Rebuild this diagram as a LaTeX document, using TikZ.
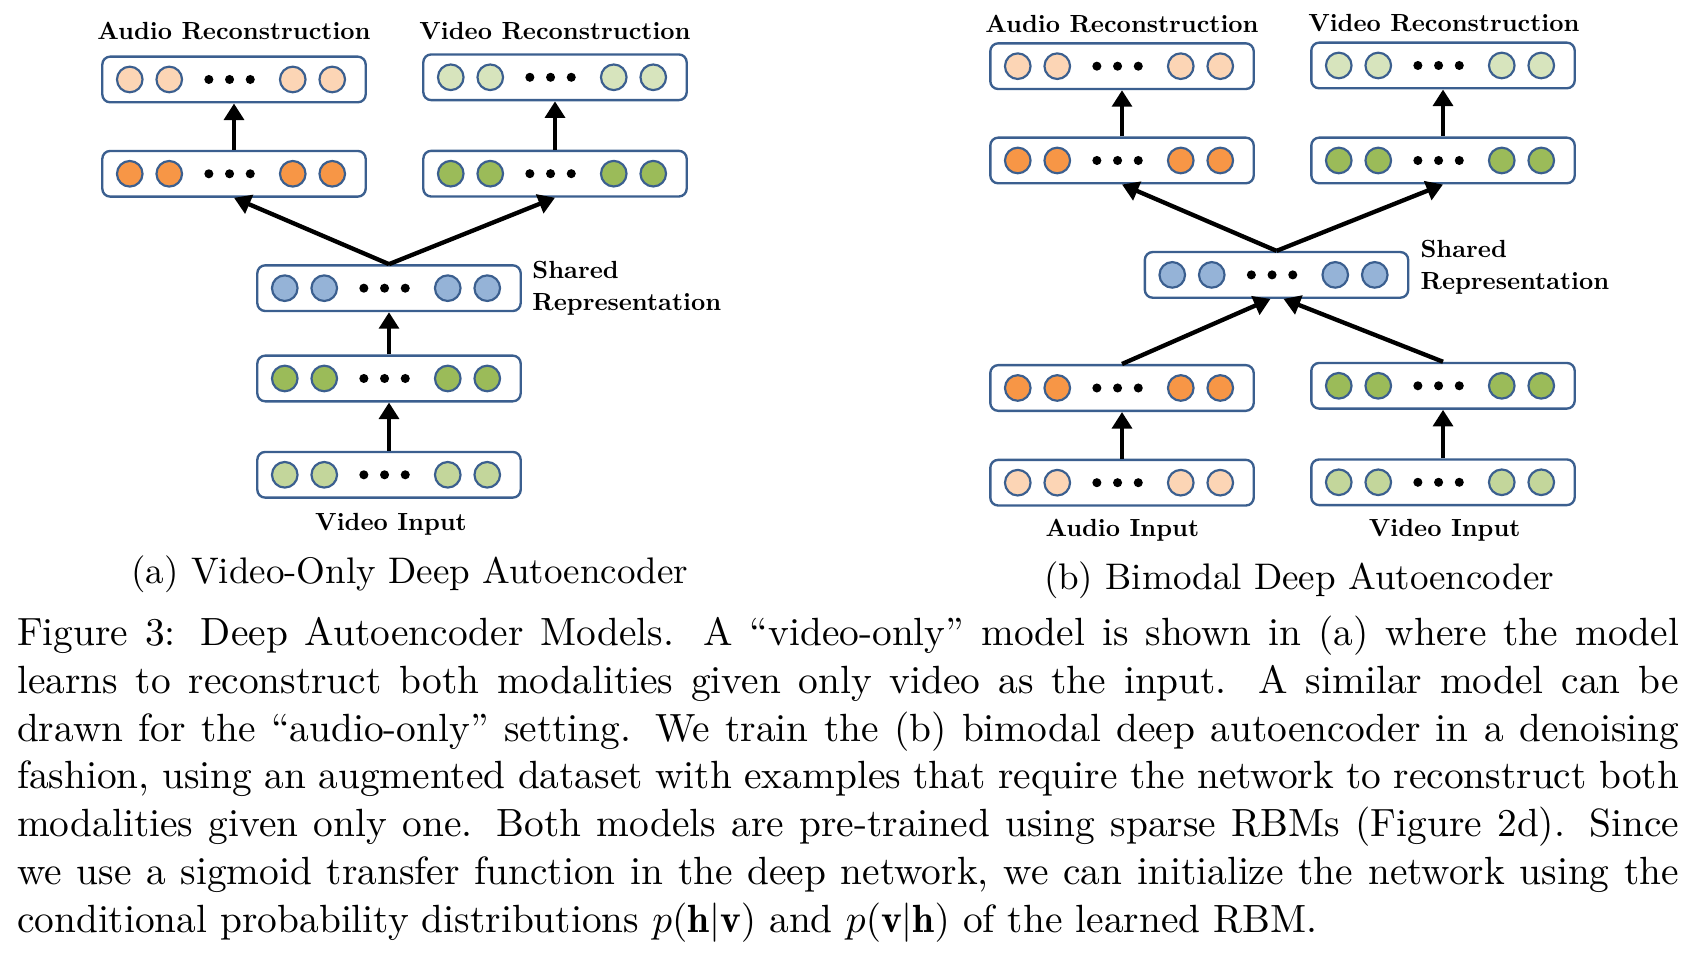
\documentclass[tikz,border=0pt]{standalone}
\usepackage{fontspec}
\newfontfamily\labfont{lmroman10-bold}[Extension=.otf, Ligatures=TeX]
\newfontfamily\tenrm{lmroman10-regular}[Extension=.otf, Ligatures=TeX]
\usetikzlibrary{arrows.meta,calc}
\definecolor{boxblue}{HTML}{3B5F8F}
\definecolor{lorange}{HTML}{FCD5B5}
\definecolor{dorange}{HTML}{F79646}
\definecolor{lgreenr}{HTML}{D7E4BD}
\definecolor{dgreen}{HTML}{9BBB59}
\definecolor{lgreeni}{HTML}{C3D69B}
\definecolor{lblue}{HTML}{95B3D7}
\tikzset{
  layerbox/.style={draw=boxblue, line width=0.6pt, rounded corners=2pt, minimum width=66.9pt, minimum height=11.6pt, inner sep=0pt, fill=white},
  unit/.style={circle, draw=boxblue, line width=0.55pt, minimum size=6.5pt, inner sep=0pt},
  dotnode/.style={circle, fill=black, minimum size=2.3pt, inner sep=0pt},
  conn/.style={-{Triangle[width=5pt,length=4.2pt]}, line width=1.1pt},
  lab/.style={font=\labfont\fontsize{6.3}{8.4}\selectfont, inner sep=0pt},
  subcap/.style={font=\tenrm\fontsize{9.4}{11}\selectfont, inner sep=0pt},
}
\newcommand{\nnlayer}[4]{%
  \node[layerbox] (#1) at (#2,#3) {};
  \foreach \dx [count=\i] in {-104.25,-64.75,58.75,98.25}
    \node[unit, fill=#4] (#1-u\i) at ({#2+\dx},#3) {};
  \foreach \dx [count=\i] in {-25.15,-4.45,16.25}
    \node[dotnode] (#1-d\i) at ({#2+\dx},#3) {};
}
\begin{document}
\begin{tikzpicture}[x=0.254pt,y=-0.254pt]
\useasboundingbox (0,0) rectangle (1700,956);
% ---------- panel (a)
\nnlayer{aAR}{234}{79.5}{lorange}
\nnlayer{aVR}{555}{77.3}{lgreenr}
\nnlayer{aAH}{234}{173.8}{dorange}
\nnlayer{aVH}{555}{173.7}{dgreen}
\nnlayer{aS}{389}{288.2}{lblue}
\nnlayer{aH}{389}{378.5}{dgreen}
\nnlayer{aI}{389}{474.8}{lgreeni}
\draw[conn] (aAH.north) -- (aAR.south);
\draw[conn] (aVH.north) -- (aVR.south);
\draw[conn] (aS.north) -- (aAH.south);
\draw[conn] (aS.north) -- (aVH.south);
\draw[conn] (aH.north) -- (aS.south);
\draw[conn] (aI.north) -- (aH.south);
\node[lab, anchor=base] (aARl) at (234,40) {Audio Reconstruction};
\node[lab, anchor=base] (aVRl) at (555,39.3) {Video Reconstruction};
\node[lab, anchor=base west] (aSl1) at (531.7,278.3) {Shared};
\node[lab, anchor=base west] (aSl2) at (531.7,311) {Representation};
\node[lab, anchor=base] (aIl) at (391,531) {Video Input};
\node[subcap, anchor=base] (acap) at (409.8,584) {(a) Video-Only Deep Autoencoder};
% ---------- panel (b)
\nnlayer{bAR}{1122}{66.2}{lorange}
\nnlayer{bVR}{1443}{65.5}{lgreenr}
\nnlayer{bAH}{1122}{160.5}{dorange}
\nnlayer{bVH}{1443}{160.5}{dgreen}
\nnlayer{bS}{1276.5}{274.9}{lblue}
\nnlayer{bAH2}{1122}{388}{dorange}
\nnlayer{bVH2}{1443}{385.8}{dgreen}
\nnlayer{bAI}{1122}{482.7}{lorange}
\nnlayer{bVI}{1443}{482.3}{lgreeni}
\coordinate (bSinL) at ($(bS.south)+(-6,0)$);
\coordinate (bSinR) at ($(bS.south)+(7,0)$);
\draw[conn] (bAH.north) -- (bAR.south);
\draw[conn] (bVH.north) -- (bVR.south);
\draw[conn] (bS.north) -- (bAH.south);
\draw[conn] (bS.north) -- (bVH.south);
\draw[conn] (bAH2.north) -- (bSinL);
\draw[conn] (bVH2.north) -- (bSinR);
\draw[conn] (bAI.north) -- (bAH2.south);
\draw[conn] (bVI.north) -- (bVH2.south);
\node[lab, anchor=base] (bARl) at (1122,32.3) {Audio Reconstruction};
\node[lab, anchor=base] (bVRl) at (1443.8,32) {Video Reconstruction};
\node[lab, anchor=base west] (bSl1) at (1419.8,257.3) {Shared};
\node[lab, anchor=base west] (bSl2) at (1419.8,290) {Representation};
\node[lab, anchor=base] (bAIl) at (1122.3,536.7) {Audio Input};
\node[lab, anchor=base] (bVIl) at (1444.7,536.7) {Video Input};
\node[subcap, anchor=base] (bcap) at (1299,590) {(b) Bimodal Deep Autoencoder};
% ---------- caption
\node[anchor=north west, text width=422.15pt, align=justify, inner sep=0pt,
      font=\fontsize{10}{12.12}\selectfont] (cap) at (16.3,615.5)
{Figure 3: Deep Autoencoder Models.  A ``video-only'' model is shown in (a) where the model\linebreak
learns to reconstruct both modalities given only video as the input.  A similar model can be\linebreak
drawn for the ``audio-only'' setting. We train the (b) bimodal deep autoencoder in a denoising\linebreak
fashion, using an augmented dataset with examples that require the network to reconstruct both\linebreak
modalities given only one. Both models are pre-trained using sparse RBMs (Figure 2d). Since\linebreak
we use a sigmoid transfer function in the deep network, we can initialize the network using the\linebreak
conditional probability distributions $p(\mathbf{h}|\mathbf{v})$ and $p(\mathbf{v}|\mathbf{h})$ of the learned RBM.};
\end{tikzpicture}
\end{document}
